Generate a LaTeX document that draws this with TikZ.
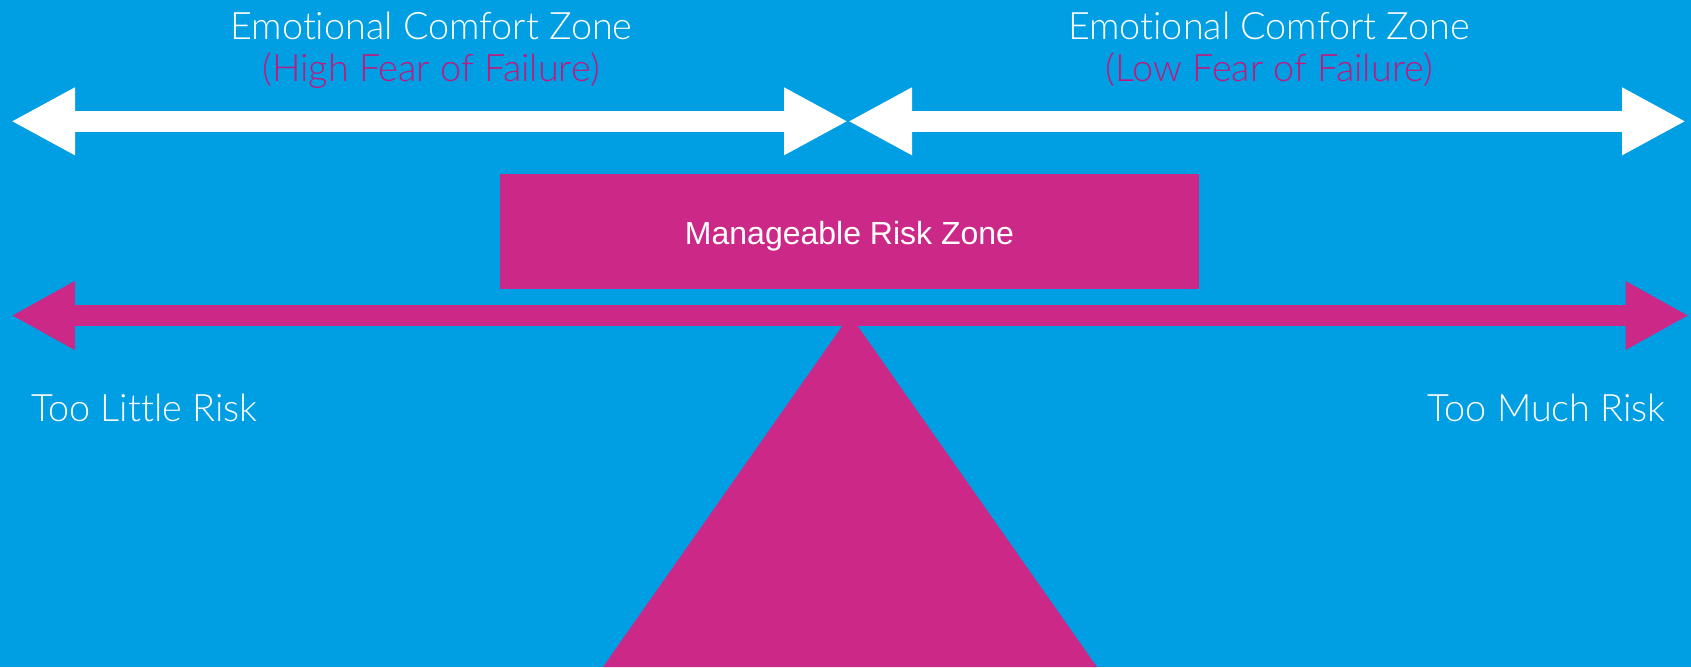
\documentclass[tikz,border=0pt]{standalone}
\usepackage{fontspec}
\setmainfont{Liberation Sans}
\newfontfamily\lightfont{Lato Light}[Ligatures=NoCommon]
\usetikzlibrary{positioning,arrows.meta}
\definecolor{skyblue}{HTML}{009FE3}
\definecolor{riskpink}{HTML}{CC2887}
\definecolor{fearpink}{HTML}{C2187E}
\tikzstyle{heading}=[inner sep=0pt, anchor=base, text=white, font=\lightfont\fontsize{37.8}{42}\selectfont]

\begin{document}
\begin{tikzpicture}[
        x=1pt, y=-1pt,
        zone/.style={white, line width=20.7pt, {Triangle[length=64pt,width=63pt]}-{Triangle[length=64pt,width=63pt]}},
        scale line/.style={riskpink, line width=21pt, {Triangle[length=63.5pt,width=64pt]}-{Triangle[length=63.5pt,width=64pt]}},
        riskbox/.style={fill=riskpink, text=white, minimum width=699pt, minimum height=115.4pt, text height=25.4pt, text depth=0pt, font=\fontsize{32}{36}\selectfont},
      ]
      \fill [skyblue] (0,0) rectangle (1691,667);
      \useasboundingbox (0,0) rectangle (1691,667);
      % comfort zones
      \coordinate (HighEnd) at (11,121.3);
      \coordinate (Pivot) at (848,121.3);
      \coordinate (LowEnd) at (1686,121.3);
      \draw [zone] (HighEnd) -- (Pivot);
      \draw [zone] (Pivot) -- (LowEnd);
      \node (HighTitle) [heading] at (431.5,39) {Emotional Comfort Zone};
      \node (HighFear) [heading, text=fearpink] at (431,81.7) {(High Fear of Failure)};
      \node (LowTitle) [heading] at (1269,39) {Emotional Comfort Zone};
      \node (LowFear) [heading, text=fearpink] at (1269,81.7) {(Low Fear of Failure)};
      % seesaw
      \node (Manageable) [riskbox] at (849.5,231.3) {Manageable Risk Zone};
      \coordinate (Fulcrum) at (850,315);
      \fill [riskpink] (Fulcrum) -- (1097,667) -- (603,667) -- cycle;
      \coordinate (LittleEnd) at (11.3,315.5);
      \coordinate (MuchEnd) at (1689,315.5);
      \draw [scale line] (LittleEnd) -- (MuchEnd);
      \node (TooLittle) [heading, anchor=base west] at (31,421.7) {Too Little Risk};
      \node (TooMuch) [heading, anchor=base east] at (1666,421.7) {Too Much Risk};
    \end{tikzpicture}
\end{document}
